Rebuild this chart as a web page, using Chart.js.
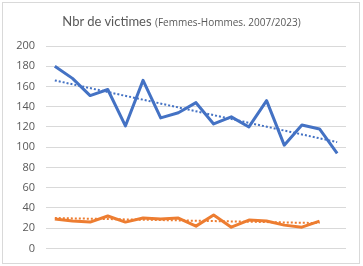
<!DOCTYPE html>
<html>
<head>
<meta charset="utf-8">
<script src="https://cdn.jsdelivr.net/npm/chart.js@4/dist/chart.umd.min.js"></script>
<style>
  body { margin: 0; background: #fff; }
  #wrap { position: relative; width: 363px; height: 266px; }
  #frame { position: absolute; left: 2px; top: 2px; width: 356px; height: 260px; border: 1px solid #d9d9d9; }
  #title { position: absolute; left: 0; top: 13px; width: 363px; text-align: center;
           font-family: Lato, sans-serif; color: #595959; font-size: 13px; white-space: nowrap; }
  #title small { font-size: 10px; font-family: "Open Sans", sans-serif; }
  canvas { position: absolute; left: 0; top: 0; }
</style>
</head>
<body>
<div id="wrap">
  <div id="frame"></div>
  <canvas id="chart" width="363" height="266"></canvas>
  <div id="title">Nbr de victimes <small>(Femmes-Hommes. 2007/2023)</small></div>
</div>
<script>
// Nbr de victimes 2007-2023
const years = ['2007','2008','2009','2010','2011','2012','2013','2014','2015','2016','2017','2018','2019','2020','2021','2022','2023'];
const femmes = [180, 168, 151, 157, 121, 166, 129, 134, 144, 123, 130, 120, 146, 102, 122, 118, 94];
const hommes = [29, 27, 26, 32, 26, 30, 29, 30, 22, 33, 21, 28, 27, 23, 21, 27, null];

// trend lines (start and end only)
const femmesTrend = [166, null, null, null, null, null, null, null, null, null, null, null, null, null, null, null, 105];
const hommesTrend = [30, null, null, null, null, null, null, null, null, null, null, null, null, null, null, 25, null];

const yTicks = { min: 0, max: 200, step: 20 };

const blue = '#4472C4';
const orange = '#ED7D31';

window.onload = function() {
    const ctx = document.getElementById('chart').getContext('2d');
    new Chart(ctx, {
        type: 'line',
        data: {
            labels: years,
            datasets: [
                { data: femmesTrend, borderColor: blue, borderWidth: 2, borderDash: [2, 2], pointRadius: 0, spanGaps: true },
                { data: hommesTrend, borderColor: orange, borderWidth: 2, borderDash: [2, 2], pointRadius: 0, spanGaps: true },
                { data: femmes, borderColor: blue, borderWidth: 3, pointRadius: 0, borderJoinStyle: 'round' },
                { data: hommes, borderColor: orange, borderWidth: 3, pointRadius: 0, borderJoinStyle: 'round' }
            ]
        },
        options: {
            responsive: false,
            animation: false,
            layout: { padding: { top: 46, right: 17, bottom: 9, left: 0 } },
            plugins: { legend: { display: false }, tooltip: { enabled: false } },
            scales: {
                x: {
                    offset: true,
                    grid: { display: false },
                    border: { display: false },
                    ticks: { display: false }
                },
                y: {
                    min: yTicks.min,
                    max: yTicks.max,
                    ticks: {
                        stepSize: yTicks.step,
                        color: '#595959',
                        font: { family: 'Open Sans', size: 11 },
                        padding: 11
                    },
                    grid: { color: '#d9d9d9', drawTicks: false },
                    border: { display: false },
                    afterFit: function(scale) { scale.width = 46; }
                }
            }
        }
    });
};
</script>
</body>
</html>
